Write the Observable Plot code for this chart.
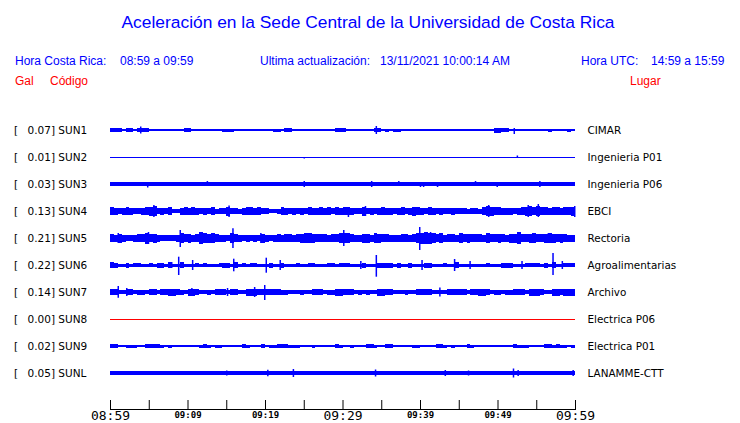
<!DOCTYPE html>
<html>
<head>
<meta charset="utf-8">
<script src="https://cdn.jsdelivr.net/npm/d3@7"></script>
<script src="https://cdn.jsdelivr.net/npm/@observablehq/plot@0.6"></script>
<style>
  html, body { margin: 0; padding: 0; background: #fff; }
  #wrap { width: 740px; height: 423px; overflow: hidden; position: relative; }
  svg text { white-space: pre; }
</style>
</head>
<body>
<div id="wrap"></div>
<script>
// ---------------- data ----------------
const title = "Aceleración en la Sede Central de la Universidad de Costa Rica";
const headerBlue = ["Hora Costa Rica:", "08:59 a 09:59", "Ultima actualización:", "13/11/2021 10:00:14 AM", "Hora UTC:", "14:59 a 15:59"];
const headerRed = ["Gal", "Código", "Lugar"];

const stations = ["SUN1", "SUN2", "SUN3", "SUN4", "SUN5", "SUN6", "SUN7", "SUN8", "SUN9", "SUNL"];
const peakGal = [0.07, 0.01, 0.03, 0.13, 0.21, 0.22, 0.14, 0.00, 0.02, 0.05];
const places = ["CIMAR", "Ingenieria P01", "Ingenieria P06", "EBCI", "Rectoria", "Agroalimentarias", "Archivo", "Electrica P06", "Electrica P01", "LANAMME-CTT"];
const traceColor = ["blue", "blue", "blue", "blue", "blue", "blue", "blue", "red", "blue", "blue"];

// continuous trace half-amplitude (relative counts, 27 counts = row spacing)
const baseAmp = [0.6, 0.5, 1.8, 2, 3, 1.5, 1.8, 0.5, 0.6, 1.8];

// 30-second envelope (half-amplitude) for the busy stations, 120 bins over the hour
const envSUN4 = [4,3.5,3,3.5,4,3.5,3,3,3.5,4, 4.5,5,3,3.5,3,4,2,2,3.5,4, 3.5,4,3.5,3,3.5,3,4,2.5,3,3,
  4.5,3,3,2.5,3.5,4,4,3.5,4,3, 3,2,2,2.5,4,3.5,3,3.5,3,3.5, 3,4,3.5,3.5,4,3.5,4,3,4,3.5,
  4,4,3.5,3,3,4.5,3,3.5,3,3.5, 4,3.5,3.5,3,3.5,4,3,3.5,4.5,4, 3.5,3,4,3.5,3,3.5,3,3,3.5,3,
  3,3,2.5,3,3,2.5,4,5,4.5,4, 4,3.5,3.5,3.5,3,3.5,4,4.5,5,4, 5,4,4,3.5,4,4,3.5,4,4,4.5];
const envSUN5 = [4,3.5,4.5,3.5,3,3,3.5,4,4,5.5, 4,4.5,3.5,3,3,3,3,3.5,5,4, 4.5,3.5,4,6,5,4.5,5,4,3.5,3.5,
  3,5,4,3.5,3,3.5,3,3.5,3,4.5, 3.5,3,3.5,4,3.5,4,4,3.5,4,4.5, 5,5,4.5,4,4,4,3.5,4,4,5,
  5,5,4,3.5,3.5,4.5,4.5,3.5,5,4.5, 4,4,3.5,3.5,3.5,4,4,3.5,4,5, 5.5,6,5.5,5,4,5,3.5,4,4,3.5,
  5,4,4.5,4,4,4,3.5,5,4,4, 4.5,4,3.5,4.5,4.5,6,4,4,4.5,5, 4,4,4.5,5,4.5,4,4.5,4,3.5,3.5];

// bursts [30-s bin, half-amplitude] for the quieter stations
const burstsSUN1 = [[0,1.6],[1,1.6],[2,1.6],[3,1.3],[4,1.6],[5,1.6],[7,1.6],[8,1.6],[9,1.6],[11,1.3],[13,1.3],[14,1.3],[15,1],[17,1.3],[18,1],[19,1.6],[20,1.6],[21,1.3],[22,1.3],[23,1.3],[24,1],[25,1.3],[27,1.3],[29,1.5],[30,1.5],[31,1.5],[32,1],[36,1.3],[37,1],[38,1],[39,1],[40,1],[42,1.5],[43,1.5],[45,1.6],[46,1.6],[47,1.3],[48,1],[49,1.3],[51,1],[54,1.3],[56,1.3],[58,1.6],[59,1.6],[60,1.6],[61,1.3],[62,1.3],[63,1.3],[66,1],[68,1.6],[69,1.6],[71,1.5],[73,1.5],[74,1.5],[75,1],[77,1.3],[79,1],[80,1],[82,1],[84,1.3],[85,1.3],[87,1],[90,1],[92,1.3],[93,1],[96,1.3],[97,1.3],[99,2.5],[100,2.5],[101,1.6],[102,1.6],[105,1.3],[106,1.3],[108,1.3],[110,1],[113,1.5],[114,1.3],[115,1.3],[116,1.3],[118,1.5]];
const burstsSUN6 = [[0,3],[1,2.5],[4,2.5],[6,2],[7,2],[10,2],[12,2.5],[13,2.5],[15,3],[18,3],[22,2],[24,2],[28,2],[29,2.5],[30,2.5],[32,3],[34,2],[36,2],[37,2],[41,2.5],[44,2.5],[48,2],[51,2],[52,2],[56,2],[57,2],[59,2],[60,2],[61,2],[65,2.5],[69,2.5],[70,2.5],[71,2.5],[72,2.5],[74,2.5],[77,2.5],[81,2.5],[82,2.5],[86,2],[89,3],[97,2],[101,2.5],[102,2.5],[103,2.5],[107,2],[108,2],[109,2],[110,2],[112,2.5],[114,3],[117,2],[118,2],[119,2]];
const burstsSUN7 = [[0,3],[1,3],[4,3],[5,3],[7,2.5],[8,2.5],[10,3],[11,3],[13,3],[14,3],[15,3.5],[16,3.5],[17,3],[18,2.5],[20,3.5],[21,3.5],[22,3],[25,2.5],[27,3],[28,3],[29,3],[31,3],[32,3],[35,3.5],[36,3.5],[37,3.5],[38,3],[39,3],[40,3],[41,3],[42,3],[43,3],[44,2.5],[45,2.5],[49,2.5],[52,3],[53,3],[54,3],[56,2.5],[57,2.5],[58,3.5],[59,3.5],[60,3],[61,3],[62,3],[64,2.5],[66,2.5],[69,3.5],[70,3.5],[71,3],[72,3],[76,2.5],[79,3],[80,3],[81,3],[82,3],[87,3],[88,3],[89,3],[90,3],[91,3],[93,3],[94,3],[95,3.5],[96,3.5],[97,3],[99,2.5],[100,2.5],[102,2.5],[103,2.5],[104,3],[105,3],[106,3],[108,3.5],[109,3.5],[110,3.5],[111,3],[114,3.5],[115,3.5],[116,3],[117,3.5],[118,3.5],[119,3.5]];
const burstsSUN9 = [[0,1.8],[1,1.8],[4,1.5],[5,1.5],[6,1.5],[8,1.2],[9,1.8],[10,1.8],[11,1.8],[12,1.8],[13,1.5],[15,1.5],[18,1.2],[20,1.2],[21,1.2],[23,1.5],[24,1.8],[25,1.5],[27,1.5],[28,1.5],[30,1.2],[34,1.8],[35,1.5],[37,1.2],[39,1.8],[41,1.5],[42,1.5],[43,1.8],[44,1.8],[45,1.8],[46,1.5],[47,1.5],[48,1.5],[49,1.2],[51,1.2],[52,1.5],[53,1.2],[54,1.2],[55,1.2],[58,1.8],[59,1.5],[61,1.2],[62,1.5],[64,1.2],[66,1.8],[67,1.8],[68,1.5],[71,1.8],[72,1.8],[73,1.2],[77,1.2],[78,1.5],[79,1.5],[82,1.2],[84,1.8],[85,1.8],[86,1.5],[88,1.5],[89,1.2],[92,1.8],[93,1.5],[96,1.2],[101,1.2],[104,1.8],[105,1.5],[106,1.5],[107,1.5],[108,1.2],[110,1.2],[112,1.8],[113,1.8],[114,1.5],[115,1.8],[116,1.5],[117,1.5],[119,1.5]];

// narrow spikes [station row, minute after 08:59, up, down]
const spikes = [
  [0,3.9,3.5,3.5],[0,34.3,4,4],[0,52.1,2,4],
  [1,25.0,0,1.5],[1,52.5,1.5,0],
  [2,4.8,0,3.5],[2,12.5,3,0],[2,25.0,3,3],[2,33.7,3,3],[2,37.2,3,0],[2,40.0,0,3],[2,40.4,0,3],[2,42.2,0,3],[2,47.1,3,0],[2,49.9,0,3],[2,55.4,3,3],
  [3,5.6,6,6],[3,15.3,5.5,6],[3,30.7,4,6],[3,32.9,5,5],[3,48.8,6,6],[3,53.9,6,6],[3,55.2,7,6],[3,59.9,5,6],
  [4,1.0,5,5],[4,4.9,6,6],[4,9.0,8,9],[4,11.6,6,6],[4,15.8,9.7,10],[4,19.4,5,5],[4,25.4,5,5],[4,30.1,8,8],[4,39.9,11,12],[4,41.3,6,6],[4,45.2,5,5],[4,52.8,6,6],[4,56.5,5,5],
  [5,0.1,3,3],[5,7.9,3,3],[5,8.8,8.3,10],[5,10.6,5,5],[5,15.9,6.3,6.3],[5,20.1,7.3,7.7],[5,21.9,5,5],[5,32.3,4,4],[5,34.3,10,11.7],[5,40.2,5,5],[5,44.4,6,6],[5,46.4,4,4],[5,53.1,4,4],[5,57.1,12,10],[5,58.3,4,4],
  [6,1.0,6,5.7],[6,2.1,4,4],[6,10.5,4,4],[6,15.1,4,4],[6,18.6,5,5],[6,19.9,7,8],[6,42.5,4.5,4.5],
  [9,15.0,2.5,2.5],[9,20.3,3.3,3.3],[9,23.6,4,4],[9,34.2,3.5,3.5],[9,43.2,3,3],[9,46.2,2.5,2.5],[9,52.0,4.5,4.5],[9,52.6,3,3],[9,59.7,3,3]
];

const tickMinutes = [0,5,10,15,20,25,30,35,40,45,50,55,60];
const bigTicks = [0,30,60];
const bigLabels = ["08:59","09:29","09:59"];
const smallTicks = [10,20,40,50];
const smallLabels = ["09:09","09:19","09:39","09:49"];

// ---------------- build ----------------
const countsPerRow = 27;
const rects = [];
stations.forEach((s, i) => rects.push({row: i, x1: 0, x2: 60, amp: baseAmp[i]}));
const addBins = (row, list) => list.forEach(([k, a]) => rects.push({row, x1: k * 0.5, x2: k * 0.5 + 0.5, amp: a}));
addBins(3, envSUN4.map((a, k) => [k, a]));
addBins(4, envSUN5.map((a, k) => [k, a]));
addBins(0, burstsSUN1);
addBins(5, burstsSUN6);
addBins(6, burstsSUN7);
addBins(8, burstsSUN9);

const wrap = d3.select("#wrap");

// header (above the plot)
const head = wrap.append("svg").attr("width", 740).attr("height", 95).style("display", "block")
  .attr("font-family", "'Liberation Sans', Arial, sans-serif");
head.append("text").attr("x", 368).attr("y", 28).attr("text-anchor", "middle")
  .attr("font-size", 17.4).attr("fill", "#0000ff").text(title);
const hx = [15, 120, 260, 380, 581, 651];
headerBlue.forEach((t, i) => head.append("text").attr("x", hx[i]).attr("y", 65)
  .attr("font-size", 12).attr("fill", "#0000ff").text(t));
const rx = [15, 50, 630];
headerRed.forEach((t, i) => head.append("text").attr("x", rx[i]).attr("y", 84.5)
  .attr("font-size", 12).attr("fill", "#ff0000").text(t));

const chart = Plot.plot({
  width: 740,
  height: 328,
  marginLeft: 110,
  marginRight: 165,
  marginTop: 0,
  marginBottom: 14,
  x: {domain: [0, 60]},
  y: {domain: [-0.5, 9.5], range: [21.5, 291.5], axis: null},
  color: {type: "identity"},
  style: {fontFamily: "'DejaVu Sans', sans-serif", background: "#fff", overflow: "visible"},
  marks: [
    Plot.rect(rects, {
      x1: "x1", x2: "x2",
      y1: d => d.row - d.amp / countsPerRow,
      y2: d => d.row + d.amp / countsPerRow,
      fill: d => traceColor[d.row],
      shapeRendering: "crispEdges"
    }),
    Plot.ruleX(spikes, {
      x: d => d[1],
      y1: d => d[0] - d[2] / countsPerRow,
      y2: d => d[0] + d[3] / countsPerRow,
      stroke: d => traceColor[d[0]],
      strokeWidth: 1.5
    }),
    Plot.frame({anchor: "bottom", stroke: "#000"}),
    Plot.ruleX(tickMinutes, {x: d => d, insetTop: 305, stroke: "#000"}),
    Plot.axisX(bigTicks, {tickSize: 0, tickPadding: 1, fontSize: 13, fontFamily: "'DejaVu Sans Mono', monospace",
      tickFormat: d => bigLabels[bigTicks.indexOf(d)], fill: "#000"}),
    Plot.axisX(smallTicks, {tickSize: 0, tickPadding: 2.5, fontSize: 9, fontFamily: "'DejaVu Sans Mono', monospace",
      fontWeight: "bold", tickFormat: d => smallLabels[smallTicks.indexOf(d)], fill: "#000"}),
    Plot.text(stations, {y: (d, i) => i, text: () => "[", frameAnchor: "left", dx: -96.5,
      textAnchor: "start", fontSize: 10.5, fill: "#000"}),
    Plot.text(stations, {y: (d, i) => i, text: (d, i) => `${peakGal[i].toFixed(2)}] ${d}`, frameAnchor: "left",
      dx: -83, textAnchor: "start", fontSize: 10.5, fill: "#000"}),
    Plot.text(places, {y: (d, i) => i, text: d => d, frameAnchor: "right", dx: 12,
      textAnchor: "start", fontSize: 10.4, fill: "#000"})
  ]
});
chart.style.display = "block";
wrap.node().appendChild(chart);
</script>
</body>
</html>
